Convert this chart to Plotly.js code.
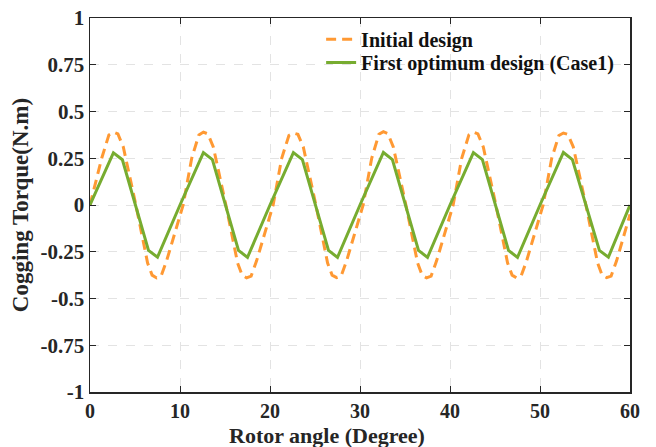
<!DOCTYPE html>
<html>
<head>
<meta charset="utf-8">
<script src="https://cdn.plot.ly/plotly-3.0.1.min.js"></script>
<style>html,body{margin:0;padding:0;background:#fff;}#chart{width:656px;height:447px;}</style>
</head>
<body>
<div id="chart"></div>
<script>
// Series names
const seriesNames = ["Initial design", "First optimum design (Case1)"];

// Initial design (orange dashed)
const initialAngle = [0, 1.3, 2.1, 2.6, 3.1, 3.7, 5.1, 6.4, 6.9, 7.4, 7.9, 8.5,
  10.35, 11.3, 12.1, 12.6, 13.1, 13.7, 15.1, 16.4, 16.9, 17.4, 17.9, 18.5,
  20.35, 21.3, 22.1, 22.6, 23.1, 23.7, 25.1, 26.4, 26.9, 27.4, 27.9, 28.5,
  30.35, 31.3, 32.1, 32.6, 33.1, 33.7, 35.1, 36.4, 36.9, 37.4, 37.9, 38.5,
  40.35, 41.3, 42.1, 42.6, 43.1, 43.7, 45.1, 46.4, 46.9, 47.4, 47.9, 48.5,
  50.35, 51.3, 52.1, 52.6, 53.1, 53.7, 55.1, 56.4, 56.9, 57.4, 57.9, 58.5, 60];
const initialTorque = [0, 0.25, 0.375, 0.39, 0.38, 0.31, 0, -0.31, -0.375, -0.39, -0.38, -0.30,
  0, 0.25, 0.375, 0.39, 0.38, 0.31, 0, -0.31, -0.375, -0.39, -0.38, -0.30,
  0, 0.25, 0.372, 0.385, 0.378, 0.31, 0, -0.31, -0.375, -0.388, -0.38, -0.30,
  0, 0.25, 0.378, 0.392, 0.382, 0.31, 0, -0.31, -0.375, -0.39, -0.38, -0.30,
  0, 0.25, 0.375, 0.39, 0.38, 0.31, 0, -0.31, -0.375, -0.39, -0.38, -0.30,
  0, 0.25, 0.372, 0.385, 0.378, 0.31, 0, -0.31, -0.375, -0.388, -0.38, -0.30, -0.05];

// First optimum design (green solid)
const optimumAngle = [0, 2.6, 3.6, 6.5, 7.5, 10, 12.6, 13.6, 16.5, 17.5,
  20, 22.6, 23.6, 26.5, 27.5, 30, 32.6, 33.6, 36.5, 37.5,
  40, 42.6, 43.6, 46.5, 47.5, 50, 52.6, 53.6, 56.6, 57.6, 60];
const optimumTorque = [0, 0.279, 0.242, -0.243, -0.279, 0, 0.28, 0.243, -0.243, -0.28,
  0, 0.28, 0.243, -0.243, -0.28, 0, 0.281, 0.243, -0.243, -0.28,
  0, 0.28, 0.243, -0.243, -0.28, 0, 0.281, 0.243, -0.243, -0.279, 0];

// Ticks
const xTickVals = [0, 10, 20, 30, 40, 50, 60];
const xTickText = ["0", "10", "20", "30", "40", "50", "60"];
const yTickVals = [-1, -0.75, -0.5, -0.25, 0, 0.25, 0.5, 0.75, 1];
const yTickText = ["-1", "-0.75", "-0.5", "-0.25", "0", "0.25", "0.5", "0.75", "1"];

// Axis titles
const xTitle = "Rotor angle (Degree)";
const yTitle = "Cogging Torque(N.m)";

const FONT = "Liberation Serif, Times New Roman, serif";
const DARK = "#262626";

const traces = [
  {x: initialAngle, y: initialTorque, name: seriesNames[0], mode: "lines", legend: "legend",
   line: {color: "#FF9933", width: 3, dash: "10px,6px"}},
  {x: optimumAngle, y: optimumTorque, name: seriesNames[1], mode: "lines", legend: "legend2",
   line: {color: "#77AC30", width: 3}}
];

const axisCommon = {
  showline: true, mirror: "ticks", linecolor: DARK, linewidth: 1.5,
  ticks: "inside", ticklen: 6, tickcolor: DARK, tickwidth: 1,
  showgrid: true, gridcolor: "#e3e3e3", griddash: "dash", gridwidth: 1,
  zeroline: false
};

const legendCommon = {
  xanchor: "left", yanchor: "middle",
  bgcolor: "rgba(255,255,255,0)", borderwidth: 0,
  font: {family: FONT, size: 20, color: "#111", weight: "bold"}
};

const layout = {
  width: 656, height: 447,
  margin: {l: 90, r: 26, t: 18, b: 55},
  paper_bgcolor: "#ffffff", plot_bgcolor: "#ffffff",
  showlegend: true,
  legend: Object.assign({}, legendCommon, {x: 0.428, y: 0.943}),
  legend2: Object.assign({}, legendCommon, {x: 0.428, y: 0.881}),
  xaxis: Object.assign({}, axisCommon, {
    range: [0, 60], tickvals: xTickVals, ticktext: xTickText, ticklabelstandoff: 0,
    tickfont: {family: FONT, size: 20, color: DARK, weight: "bold"}
  }),
  yaxis: Object.assign({}, axisCommon, {
    range: [-1, 1], tickvals: yTickVals, ticktext: yTickText,
    tickfont: {family: FONT, size: 21, color: DARK, weight: "bold"},
    title: {text: yTitle, standoff: 5,
      font: {family: FONT, size: 23, color: DARK, weight: "bold"}}
  }),
  annotations: [
    {text: xTitle, xref: "paper", yref: "paper", x: 0.439, y: -0.116,
     xanchor: "center", yanchor: "middle", showarrow: false,
     font: {family: FONT, size: 22, color: DARK, weight: "bold"}}
  ]
};

Plotly.newPlot("chart", traces, layout, {displayModeBar: false, staticPlot: true});
</script>
</body>
</html>
